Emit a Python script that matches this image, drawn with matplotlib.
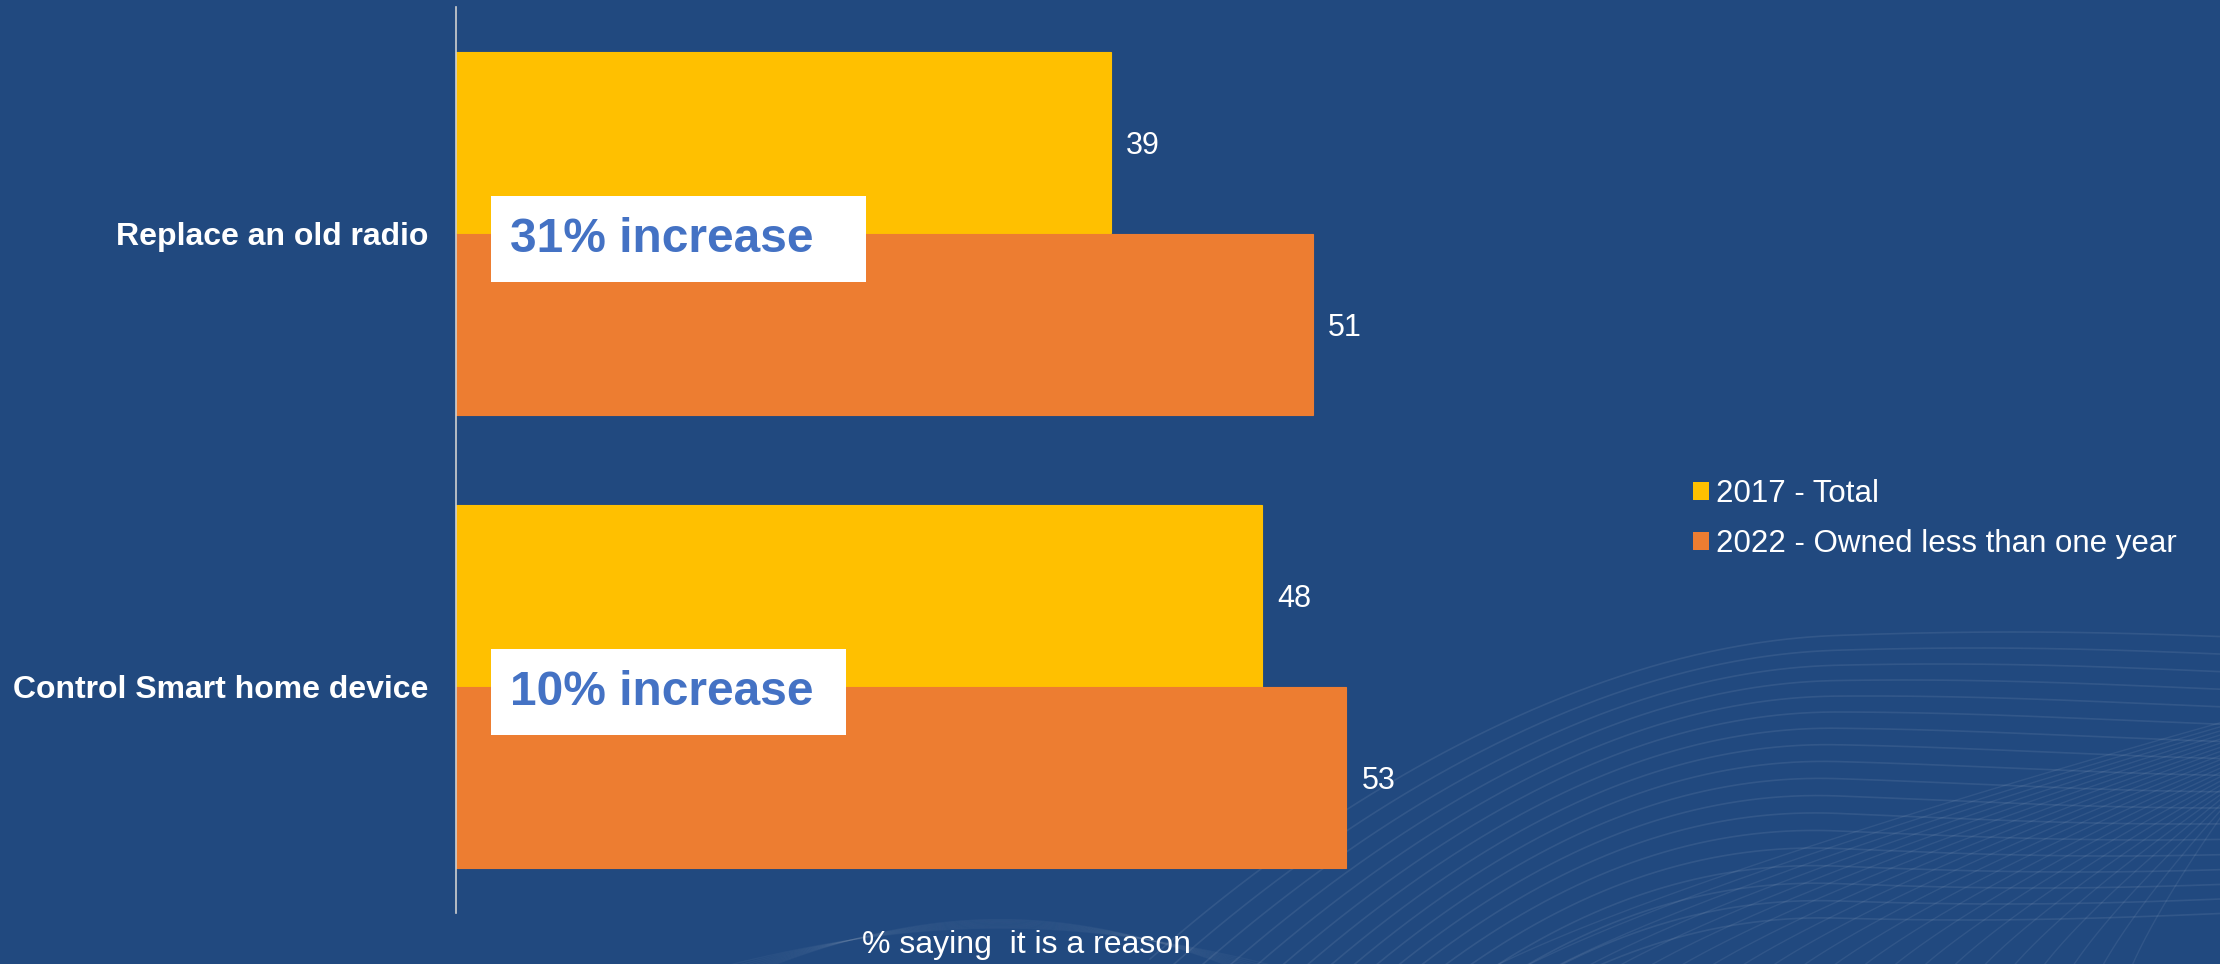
import numpy as np
import matplotlib
matplotlib.use("Agg")
import matplotlib.pyplot as plt
from matplotlib.patches import Patch, Rectangle

# ---- data ----
categories = ["Replace an old radio", "Control Smart home device"]
series_names = ["2017 - Total", "2022 - Owned less than one year"]
values_2017 = [39, 48]
values_2022 = [51, 53]
annotations = ["31% increase", "10% increase"]
x_label = "% saying  it is a reason"

BG = "#21497F"
YELLOW = "#FFC000"
ORANGE = "#ED7D31"
BLUE_TXT = "#4472C4"

plt.rcParams["font.family"] = ["Liberation Sans", "DejaVu Sans"]

W, H = 2220, 964
fig = plt.figure(figsize=(W / 100, H / 100), dpi=100, facecolor=BG)

# ---- decorative background waves (not data) ----
bg = fig.add_axes([0, 0, 1, 1], zorder=0)
bg.set_xlim(0, W)
bg.set_ylim(H, 0)
bg.axis("off")
bg.set_facecolor(BG)
t = np.linspace(0, 1, 300)
for k in range(18):
    xs = 1150 + 1100 * t
    y_end = 640 + k * 16
    y_start = 964 - 5 + k * 25
    ys = y_start + (y_end - y_start) * (1 - (1 - np.clip(t * 1.6, 0, 1)) ** 2) \
        + 8 * np.sin(t * 6 + k * 0.2)
    bg.plot(xs, ys, color="white", alpha=0.08, lw=1.2)
for k in range(22):
    x0 = 1450 + k * 32
    xs = x0 + (2230 - x0) * t
    ys = 964 + 30 - (964 + 30 - (720 + k * 4)) * t ** 0.8
    bg.plot(xs, ys, color="white", alpha=0.07, lw=1)
for k in range(8):
    xs = 600 + 800 * t
    ys = 1000 - 120 * np.sin(np.pi * t) * (0.6 + k * 0.06) + k * 6
    bg.plot(xs, ys, color="white", alpha=0.035, lw=1)

# ---- main axes ----
left, right = 456 / W, 1598 / W
bottom, top = (H - 913) / H, (H - 7) / H
ax = fig.add_axes([left, bottom, right - left, top - bottom], zorder=1)
ax.set_facecolor("none")

y = np.arange(len(categories))
h = 0.4
b1 = ax.barh(y - h / 2, values_2017, height=h, color=YELLOW, label=series_names[0],
             edgecolor=YELLOW, linewidth=0.8)
b2 = ax.barh(y + h / 2, values_2022, height=h, color=ORANGE, label=series_names[1],
             edgecolor=ORANGE, linewidth=0.8)
ax.set_xlim(0, 68)
ax.set_ylim(len(categories) - 0.5, -0.5)

for bars, vals in [(b1, values_2017), (b2, values_2022)]:
    labs = ax.bar_label(bars, labels=[str(v) for v in vals], padding=11,
                        color="white", fontsize=22)
    for lb in labs:
        lb.set_va("center_baseline")

ax.set_yticks(y)
ax.set_yticklabels(categories, fontsize=23, fontweight="bold", color="white")
ax.tick_params(axis="y", length=0, pad=20)
ax.set_xticks([])
for s in ["top", "right", "bottom"]:
    ax.spines[s].set_visible(False)
ax.spines["left"].set_color("#D0D0D0")
ax.spines["left"].set_linewidth(1.2)
ax.spines["left"].set_zorder(5)

ax.set_xlabel(x_label, fontsize=23, color="white", labelpad=12)

# annotation boxes
box_right = [24.4, 23.2]
for i, txt in enumerate(annotations):
    ax.add_patch(Rectangle((2.08, i - 0.083), box_right[i] - 2.08, 0.19,
                           facecolor="white", edgecolor="none", zorder=3))
    ax.text(3.2, i + 0.041, txt, fontsize=34.5, fontweight="bold", color=BLUE_TXT,
            va="baseline", ha="left", zorder=4)

# legend
handles = [Patch(facecolor=YELLOW, edgecolor="none"), Patch(facecolor=ORANGE, edgecolor="none")]
leg = fig.legend(handles, series_names, loc="center left",
                 bbox_to_anchor=(1693 / W, 1 - 519 / H), frameon=False,
                 fontsize=22.5, handlelength=0.5, handleheight=0.5, handletextpad=0.25,
                 labelspacing=0.66, borderpad=0, borderaxespad=0)
for t_ in leg.get_texts():
    t_.set_color("white")

fig.savefig("out.png", dpi=100, facecolor=BG)
